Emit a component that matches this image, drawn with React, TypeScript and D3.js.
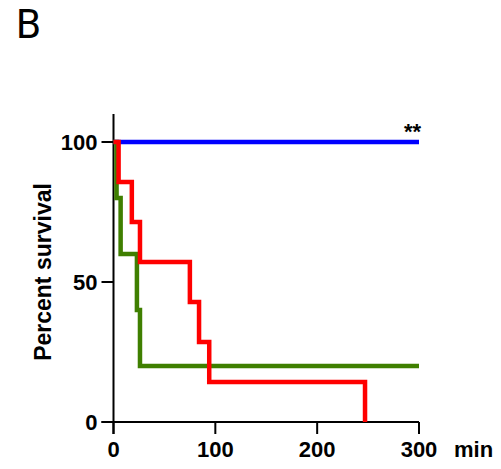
import React, { useEffect, useRef } from 'react'
import * as d3 from 'd3'

// survival curves (time in min, percent survival)
const blueTimes = [0, 300]
const blueValues = [100, 100]
const greenTimes = [0, 3, 7, 23, 26, 300]
const greenValues = [100, 80, 60, 40, 20, 20]
const redTimes = [0, 5, 18, 26, 75, 84, 94, 247]
const redValues = [100, 85.7, 71.4, 57.1, 42.9, 28.6, 14.3, 0]

const xTicks = [0, 100, 200, 300]
const yTicks = [0, 50, 100]

const series = [
  { name: 'blue', times: blueTimes, values: blueValues, color: '#0000ff' },
  { name: 'green', times: greenTimes, values: greenValues, color: '#3f7f00' },
  { name: 'red', times: redTimes, values: redValues, color: '#ff0000' }
]

export default function App() {
  const ref = useRef<SVGSVGElement>(null)

  useEffect(() => {
    const svg = d3.select(ref.current)
    svg.selectAll('*').remove()

    const x = d3.scaleLinear().domain([0, 300]).range([113.5, 419])
    const y = d3.scaleLinear().domain([0, 100]).range([422, 142])
    const font = 'Liberation Sans, Arial, sans-serif'

    // panel letter
    svg
      .append('text')
      .attr('x', 16)
      .attr('y', 37.5)
      .attr('font-family', 'Roboto, sans-serif')
      .attr('font-size', 40)
      .text('B')

    // y axis
    const yAxis = svg.append('g').attr('transform', 'translate(' + x(0) + ',0)')
    yAxis
      .append('line')
      .attr('y1', y(110))
      .attr('y2', y(0) + 12)
      .attr('stroke', 'black')
      .attr('stroke-width', 2)
    yTicks.forEach(function(t) {
      yAxis
        .append('line')
        .attr('x1', -12)
        .attr('x2', 0)
        .attr('y1', y(t))
        .attr('y2', y(t))
        .attr('stroke', 'black')
        .attr('stroke-width', 2)
      yAxis
        .append('text')
        .attr('x', -16)
        .attr('y', y(t))
        .attr('dy', '0.36em')
        .attr('text-anchor', 'end')
        .attr('font-family', font)
        .attr('font-weight', 'bold')
        .attr('font-size', 22)
        .text(t)
    })

    // x axis
    const xAxis = svg.append('g').attr('transform', 'translate(0,' + y(0) + ')')
    xAxis
      .append('line')
      .attr('x1', x(0) - 12)
      .attr('x2', x(300))
      .attr('stroke', 'black')
      .attr('stroke-width', 2)
    xTicks.forEach(function(t) {
      xAxis
        .append('line')
        .attr('x1', x(t))
        .attr('x2', x(t))
        .attr('y1', 0)
        .attr('y2', 12)
        .attr('stroke', 'black')
        .attr('stroke-width', 2)
      xAxis
        .append('text')
        .attr('x', x(t))
        .attr('y', 35)
        .attr('text-anchor', 'middle')
        .attr('font-family', font)
        .attr('font-weight', 'bold')
        .attr('font-size', 22)
        .text(t)
    })
    xAxis
      .append('text')
      .attr('x', 454)
      .attr('y', 35)
      .attr('font-family', font)
      .attr('font-weight', 'bold')
      .attr('font-size', 22)
      .text('min')

    // y title
    svg
      .append('text')
      .attr('transform', 'translate(51,272) rotate(-90)')
      .attr('text-anchor', 'middle')
      .attr('font-family', font)
      .attr('font-weight', 'bold')
      .attr('font-size', 23)
      .text('Percent survival')

    // curves
    series.forEach(function(s) {
      const pts = s.times.map(function(t, i) {
        return [x(t), y(s.values[i])] as [number, number]
      })
      svg
        .append('path')
        .attr('d', d3.line().curve(d3.curveStepAfter)(pts))
        .attr('fill', 'none')
        .attr('stroke', s.color)
        .attr('stroke-width', 4.5)
        .attr('stroke-linejoin', 'miter')
    })

    // significance mark
    svg
      .append('text')
      .attr('x', 421)
      .attr('y', 139)
      .attr('text-anchor', 'end')
      .attr('font-family', font)
      .attr('font-weight', 'bold')
      .attr('font-size', 22)
      .text('**')
  }, [])

  return (
    <svg
      ref={ref}
      width={501}
      height={469}
      style={{ position: 'absolute', left: 0, top: 0, background: 'white' }}
    />
  )
}
